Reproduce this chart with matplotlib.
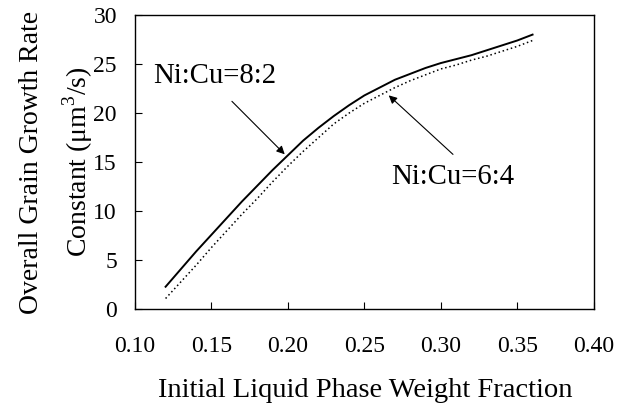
import matplotlib
matplotlib.use('Agg')
import matplotlib.pyplot as plt

# Liquid phase weight fraction and rate constants for the two Ni:Cu ratios
fraction = [0.12, 0.13, 0.14, 0.15, 0.16, 0.17, 0.18, 0.19, 0.20, 0.21, 0.22, 0.23, 0.24,
            0.25, 0.26, 0.27, 0.28, 0.29, 0.30, 0.31, 0.32, 0.33, 0.34, 0.35, 0.36]
rate_82 = [2.3, 4.1, 5.9, 7.6, 9.3, 11.0, 12.6, 14.2, 15.7, 17.2, 18.5, 19.7, 20.8,
           21.8, 22.6, 23.4, 24.0, 24.6, 25.1, 25.5, 25.9, 26.4, 26.9, 27.4, 28.0]
rate_64 = [1.1, 2.8, 4.5, 6.3, 8.0, 9.7, 11.3, 13.0, 14.6, 16.1, 17.5, 18.9, 20.0,
           21.0, 21.8, 22.6, 23.3, 23.9, 24.5, 24.9, 25.4, 25.8, 26.3, 26.8, 27.4]

x_ticks = [0.10, 0.15, 0.20, 0.25, 0.30, 0.35, 0.40]
y_ticks = [0, 5, 10, 15, 20, 25, 30]

plt.rcParams['font.family'] = ['Liberation Serif', 'DejaVu Serif']
plt.rcParams['mathtext.fontset'] = 'custom'
plt.rcParams['mathtext.rm'] = 'Liberation Serif'

fig = plt.figure(figsize=(6.3, 4.04), dpi=100)
ax = fig.add_axes([0.2143, 0.2344, 0.7281, 0.7285])

ax.plot(fraction, rate_82, color='black', linewidth=1.4)
ax.plot(fraction, rate_64, color='black', linewidth=1.1, linestyle=(0, (1, 1.8)))

ax.set_xlim(0.10, 0.40)
ax.set_ylim(0, 30)
ax.set_xticks(x_ticks)
ax.set_xticklabels([f'{t:.2f}' for t in x_ticks])
ax.set_yticks(y_ticks)
ax.tick_params(direction='in', length=5, width=0.8, labelsize=17)
ax.tick_params(axis='x', pad=19)
ax.tick_params(axis='y', pad=13)
for spine in ax.spines.values():
    spine.set_linewidth(1.0)

ax.set_xlabel('Initial Liquid Phase Weight Fraction', fontsize=20.5, va='baseline')
ax.xaxis.set_label_coords(0.501, -0.297)
ax.set_ylabel('Overall Grain Growth Rate\nConstant (μm$^3$/s)', fontsize=20,
              linespacing=1.6)
ax.yaxis.set_label_coords(-0.088, 0.5)

arrow = dict(arrowstyle='-|>', color='black', linewidth=0.8, mutation_scale=12)
ax.annotate('', xy=(0.1992, 15.6), xytext=(0.1621, 21.4), arrowprops=arrow)
ax.annotate('', xy=(0.2646, 22.0), xytext=(0.3093, 15.6), arrowprops=arrow)
ax.text(0.112, 23.06, 'Ni:Cu=8:2', fontsize=20.7, ha='left', va='baseline')
ax.text(0.2672, 12.76, 'Ni:Cu=6:4', fontsize=20.7, ha='left', va='baseline')

fig.savefig('out.png', dpi=100)
